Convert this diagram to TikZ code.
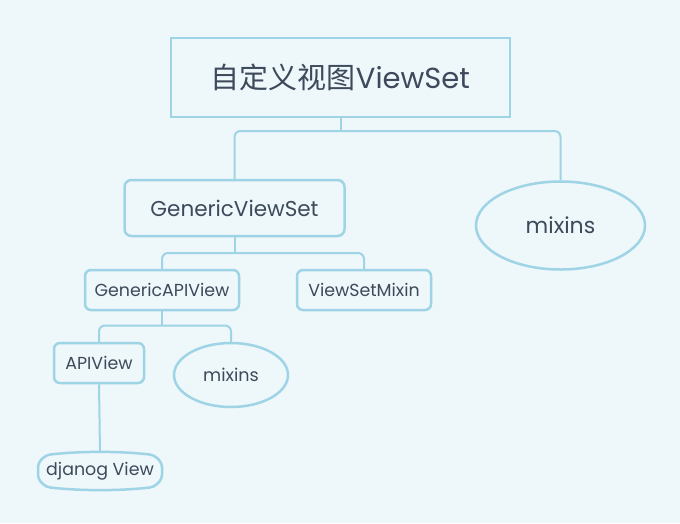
\documentclass[tikz,border=0pt]{standalone}
\usepackage{fontspec}
\setmainfont{Poppins}
\newfontfamily\cjkfont{Noto Sans CJK SC}
\usetikzlibrary{shapes.geometric}
\definecolor{bgc}{HTML}{EEF7FA}
\definecolor{edgec}{HTML}{9ED4E6}
\definecolor{txtc}{HTML}{3C4A5B}
\tikzset{
  every node/.style={text=txtc, inner sep=0pt},
  rootbox/.style={draw=edgec, line width=2.8pt, fill=bgc, minimum width=339pt, minimum height=79pt, font=\fontsize{29}{32}\selectfont},
  bigbox/.style={draw=edgec, line width=2.5pt, fill=bgc, rounded corners=7pt, minimum width=220pt, minimum height=56pt, font=\fontsize{21.5}{24}\selectfont},
  midbox/.style={draw=edgec, line width=2.5pt, fill=bgc, rounded corners=6pt, minimum height=40pt, font=\fontsize{17.4}{20}\selectfont},
  bigell/.style={draw=edgec, line width=2.5pt, fill=bgc, ellipse, minimum width=169pt, minimum height=88pt, font=\fontsize{22}{25}\selectfont},
  smallell/.style={draw=edgec, line width=2.5pt, fill=bgc, ellipse, minimum width=114pt, minimum height=64pt, font=\fontsize{17.6}{20}\selectfont},
  conn/.style={draw=edgec, line width=2pt, rounded corners=6pt},
  hexlike/.style={minimum width=124pt, minimum height=40pt, font=\fontsize{17.4}{20}\selectfont},
  hexline/.style={draw=edgec, line width=2.5pt, rounded corners=4pt},
}
\begin{document}
\begin{tikzpicture}[x=1pt,y=-1pt]
\fill[bgc] (0,0) rectangle (680,523);
\useasboundingbox (0,0) rectangle (680,523);
% nodes
\node[rootbox] (root) at (340.5,77.5) {{\cjkfont 自定义视图}ViewSet};
\node[bigbox] (gvs) at (234.5,208) {GenericViewSet};
\node[bigell] (mix1) at (560.5,225.5) {mixins};
\node[midbox, minimum width=154pt] (gapi) at (162,290) {GenericAPIView};
\node[midbox, minimum width=134pt] (vsm) at (364,290) {ViewSetMixin};
\node[midbox, minimum width=90pt] (api) at (99,363) {APIView};
\node[smallell] (mix2) at (231,375) {mixins};
\node[hexlike] (dj) at (100,471) {djanog View};
\draw[hexline]
  ([xshift=-62pt,yshift=8pt]dj.center) -- ([xshift=-54pt,yshift=16pt]dj.center)
  .. controls ([xshift=-20pt,yshift=20pt]dj.center) and ([xshift=20pt,yshift=20pt]dj.center) .. ([xshift=54pt,yshift=16pt]dj.center)
  -- ([xshift=62pt,yshift=8pt]dj.center) -- ([xshift=62pt,yshift=-8pt]dj.center)
  -- ([xshift=54pt,yshift=-16pt]dj.center)
  .. controls ([xshift=20pt,yshift=-20pt]dj.center) and ([xshift=-20pt,yshift=-20pt]dj.center) .. ([xshift=-54pt,yshift=-16pt]dj.center)
  -- ([xshift=-62pt,yshift=-8pt]dj.center) -- cycle;
\coordinate (djtop) at ([yshift=19pt]dj.center);
% connectors
\coordinate (j1) at (340.5,131);
\coordinate (j2) at (234.5,253);
\coordinate (j3) at (162,325.5);
\draw[conn] (root.south) -- (j1);
\draw[conn] (j1) -| (gvs.north);
\draw[conn] (j1) -| (mix1.north);
\draw[conn] (gvs.south) -- (j2);
\draw[conn] (j2) -| (gapi.north);
\draw[conn] (j2) -| (vsm.north);
\draw[conn] (gapi.south) -- (j3);
\draw[conn] (j3) -| (api.north);
\draw[conn] (j3) -| (mix2.north);
\draw[conn] (api.south) -- (djtop);
\end{tikzpicture}
\end{document}
